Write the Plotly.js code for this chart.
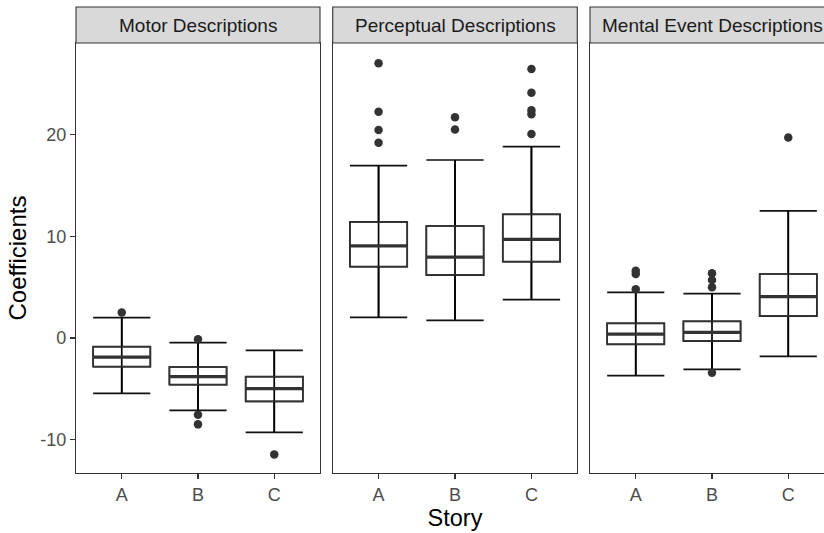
<!DOCTYPE html>
<html>
<head>
<meta charset="utf-8">
<script src="https://cdn.plot.ly/plotly-3.0.1.min.js"></script>
<style>
  html, body { margin: 0; padding: 0; overflow: hidden; background: #fff; }
  #chart { width: 834px; height: 533px; }
</style>
</head>
<body>
<div id="chart"></div>
<script>
// ---- Data ----
const stories = ['A', 'B', 'C'];
const panelTitles = ['Motor Descriptions', 'Perceptual Descriptions', 'Mental Event Descriptions'];

const motorLower   = [-5.44, -7.11, -9.27];
const motorQ1      = [-2.82, -4.59, -6.23];
const motorMedian  = [-1.87, -3.80, -4.98];
const motorQ3      = [-0.85, -2.85, -3.80];
const motorUpper   = [2.00, -0.46, -1.21];
const motorOutliers = [[2.5], [-0.13, -7.54, -8.49], [-11.44]];

const perceptLower   = [2.03, 1.74, 3.77];
const perceptQ1      = [7.01, 6.19, 7.50];
const perceptMedian  = [9.05, 7.96, 9.70];
const perceptQ3      = [11.41, 11.01, 12.16];
const perceptUpper   = [16.94, 17.50, 18.81];
const perceptOutliers = [[27.0, 22.25, 20.45, 19.2], [21.7, 20.5], [26.45, 24.12, 22.4, 22.0, 20.06]];

const mentalLower   = [-3.70, -3.08, -1.80];
const mentalQ1      = [-0.62, -0.30, 2.16];
const mentalMedian  = [0.39, 0.56, 4.06];
const mentalQ3      = [1.44, 1.64, 6.29];
const mentalUpper   = [4.49, 4.36, 12.49];
const mentalOutliers = [[6.62, 6.3, 4.79], [6.36, 5.7, 4.98, -3.41], [19.7]];

const yTicks = [-10, 0, 10, 20];
const yTickLabels = ['-10', '0', '10', '20'];

// ---- Build ----
const panels = [
  {lower: motorLower, q1: motorQ1, med: motorMedian, q3: motorQ3, upper: motorUpper, out: motorOutliers},
  {lower: perceptLower, q1: perceptQ1, med: perceptMedian, q3: perceptQ3, upper: perceptUpper, out: perceptOutliers},
  {lower: mentalLower, q1: mentalQ1, med: mentalMedian, q3: mentalQ3, upper: mentalUpper, out: mentalOutliers}
];
const pos = stories.map((s, i) => i + 1);
const boxW = 0.75;
const traces = [];
const dark = '#333333';

panels.forEach((p, k) => {
  const xa = k === 0 ? 'x' : 'x' + (k + 1);
  const ya = k === 0 ? 'y' : 'y' + (k + 1);
  traces.push({
    type: 'box', x: pos, q1: p.q1, median: p.med, q3: p.q3,
    lowerfence: p.lower, upperfence: p.upper,
    width: boxW, whiskerwidth: 1, boxpoints: false,
    fillcolor: 'rgba(255,255,255,0)', line: {color: '#111111', width: 1.7},
    xaxis: xa, yaxis: ya, showlegend: false, hoverinfo: 'skip'
  });
  // whisker line through the box
  const wx = [], wy = [];
  pos.forEach((x, i) => { wx.push(x, x, null); wy.push(p.lower[i], p.upper[i], null); });
  traces.push({type: 'scatter', mode: 'lines', x: wx, y: wy, line: {color: '#000', width: 1.7},
    xaxis: xa, yaxis: ya, showlegend: false, hoverinfo: 'skip'});
  // box outline (grey) and thick median
  const bx = [], by = [];
  pos.forEach((x, i) => {
    bx.push(x - boxW / 2, x + boxW / 2, x + boxW / 2, x - boxW / 2, x - boxW / 2, null);
    by.push(p.q1[i], p.q1[i], p.q3[i], p.q3[i], p.q1[i], null);
  });
  traces.push({type: 'scatter', mode: 'lines', x: bx, y: by, line: {color: dark, width: 1.5},
    xaxis: xa, yaxis: ya, showlegend: false, hoverinfo: 'skip'});
  const mx = [], my = [];
  pos.forEach((x, i) => { mx.push(x - boxW / 2, x + boxW / 2, null); my.push(p.med[i], p.med[i], null); });
  traces.push({type: 'scatter', mode: 'lines', x: mx, y: my, line: {color: dark, width: 3.2},
    xaxis: xa, yaxis: ya, showlegend: false, hoverinfo: 'skip'});
  // outliers
  const ox = [], oy = [];
  p.out.forEach((vals, i) => vals.forEach(v => { ox.push(pos[i]); oy.push(v); }));
  traces.push({type: 'scatter', mode: 'markers', x: ox, y: oy,
    marker: {color: dark, size: 8.5, line: {width: 0}},
    xaxis: xa, yaxis: ya, showlegend: false, hoverinfo: 'skip'});
});

const totalW = 834, totalH = 533;
const mL = 76, mR = 0, mT = 43, mB = 60;
const plotW = totalW - mL - mR;
const plotH = totalH - mT - mB;
const panelPx = [[0, 244], [256.7, 501.3], [514, 758]];
const domains = panelPx.map(d => [d[0] / plotW, d[1] / plotW]);
const yRange = [-13.27, 29.0];
const fam = 'Arial, Liberation Sans, sans-serif';
const tickFont = {family: fam, size: 18, color: '#4d4d4d'};

const layout = {
  width: totalW, height: totalH,
  margin: {l: mL, r: mR, t: mT, b: mB},
  paper_bgcolor: '#fff', plot_bgcolor: '#fff',
  font: {family: fam},
  showlegend: false,
  shapes: [], annotations: []
};

domains.forEach((d, k) => {
  const sfx = k === 0 ? '' : String(k + 1);
  layout['xaxis' + sfx] = {
    domain: d, anchor: 'y' + sfx, range: [0.4, 3.6],
    tickvals: pos, ticktext: stories, ticks: 'outside', ticklen: 5, tickwidth: 1.2, tickcolor: dark,
    tickfont: tickFont, showgrid: false, zeroline: false,
    showline: true, linecolor: dark, linewidth: 1.1, mirror: true,
    title: k === 1 ? {text: 'Story', font: {family: fam, size: 23.5, color: '#000'}, standoff: 4} : {text: ''}
  };
  layout['yaxis' + sfx] = {
    domain: [0, 1], anchor: 'x' + sfx, range: yRange,
    tickvals: yTicks, ticktext: yTickLabels,
    ticks: k === 0 ? 'outside' : '', ticklen: 5, tickwidth: 1.2, tickcolor: dark,
    showticklabels: k === 0, tickfont: tickFont, showgrid: false, zeroline: false,
    showline: true, linecolor: dark, linewidth: 1.1, mirror: true,
    title: k === 0 ? {text: 'Coefficients', font: {family: fam, size: 24, color: '#000'}, standoff: 6} : {text: ''}
  };
  const xdom = (k === 0 ? 'x' : 'x' + (k + 1)) + ' domain';
  layout.shapes.push({
    type: 'rect', xref: xdom, yref: 'paper', x0: 0, x1: 1, y0: 1, y1: 1 + 36 / plotH,
    fillcolor: '#d9d9d9', line: {color: dark, width: 1.1}, layer: 'above'
  });
  layout.annotations.push({
    text: panelTitles[k], xref: xdom, yref: 'paper', x: 0.5, y: 1 + 18 / plotH,
    xanchor: 'center', yanchor: 'middle', showarrow: false,
    font: {family: fam, size: 19, color: '#1a1a1a'}
  });
});

Plotly.newPlot('chart', traces, layout, {displayModeBar: false, staticPlot: true});
</script>
</body>
</html>
